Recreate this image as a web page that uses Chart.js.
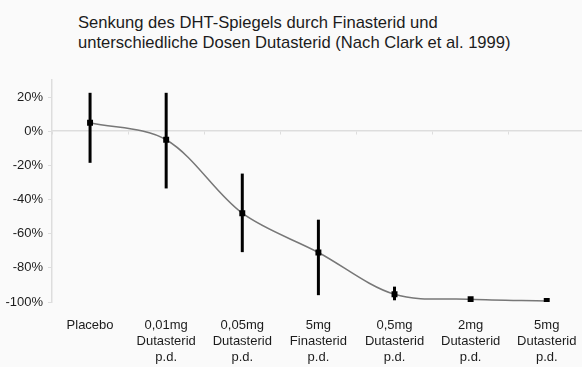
<!DOCTYPE html>
<html>
<head>
<meta charset="utf-8">
<script src="https://cdn.jsdelivr.net/npm/chart.js@4"></script>
<style>
  body { margin: 0; background: #fafafa; overflow: hidden; width: 582px; height: 367px; }
  #titel {
    position: absolute; left: 78px; top: 13px;
    font-family: "Liberation Sans", Arial, sans-serif;
    font-size: 16.6px; line-height: 19.5px; color: #1c1c1c;
  }
  #box { position: absolute; left: 0; top: 0; width: 589px; height: 367px; }
</style>
</head>
<body>
<div id="titel">Senkung des DHT-Spiegels durch Finasterid und<br>unterschiedliche Dosen Dutasterid (Nach Clark et al. 1999)</div>
<div id="box"><canvas id="grafico"></canvas></div>
<script>
// Dados
const gruppen = [
  ["Placebo"],
  ["0,01mg", "Dutasterid", "p.d."],
  ["0,05mg", "Dutasterid", "p.d."],
  ["5mg", "Finasterid", "p.d."],
  ["0,5mg", "Dutasterid", "p.d."],
  ["2mg", "Dutasterid", "p.d."],
  ["5mg", "Dutasterid", "p.d."]
];
const senkung = [5, -5, -48, -71, -95.5, -98.4, -99.4];
const fehlerOben = [22.5, 22.5, -24.8, -51.8, -91, null, null];
const fehlerUnten = [-18.5, -33.5, -70.8, -96, -99, null, null];
const yTicks = [20, 0, -20, -40, -60, -80, -100];

const fonte = { family: "'Liberation Sans', Arial, sans-serif", size: 13 };

// plugin para as barras de erro
const barrasErro = {
  id: 'barrasErro',
  beforeDatasetsDraw(chart) {
    const ctx = chart.ctx;
    const x = chart.scales.x;
    const y = chart.scales.y;
    ctx.save();
    ctx.strokeStyle = '#000';
    ctx.lineWidth = 3;
    for (let i = 0; i < senkung.length; i++) {
      if (fehlerOben[i] == null) continue;
      const px = x.getPixelForValue(i);
      ctx.beginPath();
      ctx.moveTo(px, y.getPixelForValue(fehlerOben[i]));
      ctx.lineTo(px, y.getPixelForValue(fehlerUnten[i]));
      ctx.stroke();
    }
    ctx.restore();
  }
};

const grafico = new Chart(document.querySelector('#grafico'), {
  type: 'line',
  data: {
    labels: gruppen,
    datasets: [{
      data: senkung,
      borderColor: '#777',
      borderWidth: 1.5,
      tension: 0.33,
      pointStyle: 'rect',
      pointRadius: 4.2,
      pointBackgroundColor: '#000',
      pointBorderColor: '#000',
      pointBorderWidth: 0
    }]
  },
  options: {
    responsive: true,
    maintainAspectRatio: false,
    animation: false,
    layout: { padding: { top: 80, left: 0, right: 0, bottom: 0 } },
    plugins: { legend: { display: false }, tooltip: { enabled: false } },
    scales: {
      x: {
        type: 'category',
        offset: true,
        position: { y: 0 },
        afterFit: s => { s.height = 0; s.paddingLeft = 0; s.paddingRight = 0; },
        ticks: { display: false },
        grid: { offset: true, drawOnChartArea: false, tickLength: 3, color: '#ddd' },
        border: { color: '#ddd', width: 1.5 }
      },
      x2: {
        type: 'category',
        labels: gruppen,
        offset: true,
        position: 'bottom',
        afterFit: s => { s.height = 65; s.paddingLeft = 0; s.paddingRight = 0; },
        grid: { display: false, drawTicks: false },
        border: { display: false },
        ticks: { font: fonte, color: '#1c1c1c', padding: 16, maxRotation: 0, autoSkip: false }
      },
      y: {
        min: -100,
        max: 30,
        afterFit: s => { s.width = 52; s.paddingTop = 0; s.paddingBottom = 0; },
        afterBuildTicks: s => { s.ticks = yTicks.map(v => ({ value: v })); },
        grid: { drawOnChartArea: false, tickLength: 4, color: '#ddd' },
        border: { color: '#ddd', width: 1.5 },
        ticks: { font: fonte, color: '#1c1c1c', padding: 5, callback: v => v + '%' }
      }
    }
  },
  plugins: [barrasErro]
});
</script>
</body>
</html>
